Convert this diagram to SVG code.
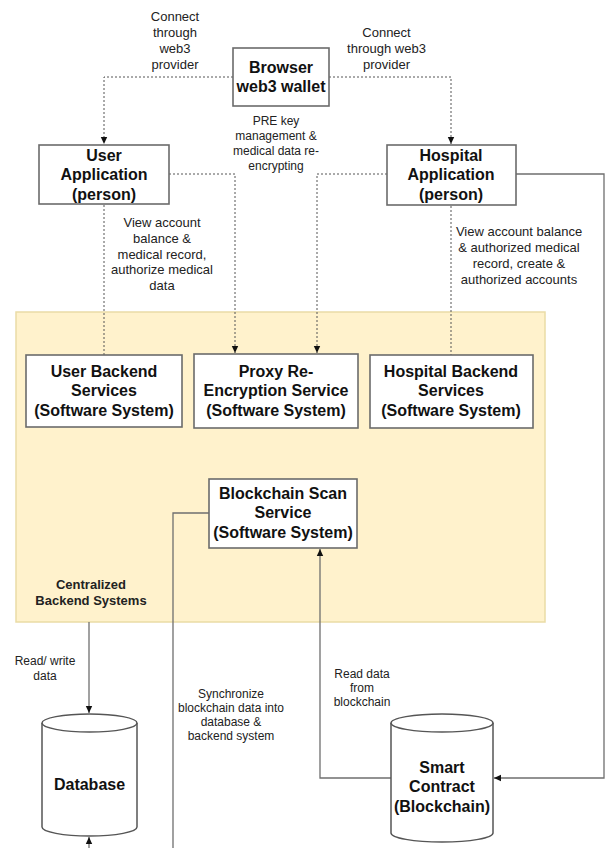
<svg xmlns="http://www.w3.org/2000/svg" width="606" height="848" viewBox="0 0 606 848">
<style>
.box{fill:#ffffff;stroke:#6b6b6b;stroke-width:1.6}
.cyl{fill:#ffffff;stroke:#555555;stroke-width:1.5}
.nt{font-family:"Liberation Sans",Arial,sans-serif;font-size:16px;font-weight:bold;fill:#111111;text-anchor:middle}
.lb{font-family:"Liberation Sans",Arial,sans-serif;font-size:13px;fill:#222222;text-anchor:middle}
.ls{font-family:"Liberation Sans",Arial,sans-serif;font-size:12px;fill:#222222;text-anchor:middle}
.lbb{font-family:"Liberation Sans",Arial,sans-serif;font-size:13px;font-weight:bold;fill:#222222;text-anchor:middle}
.dot{fill:none;stroke:#555555;stroke-width:1;stroke-dasharray:2 2}
.sol{fill:none;stroke:#6f6f6f;stroke-width:1.3}
</style>
<defs>
<marker id="arr" markerWidth="8" markerHeight="8" refX="7" refY="4" orient="auto" markerUnits="userSpaceOnUse">
<path d="M0,0.8 L7,4 L0,7.2 Z" fill="#111111"/>
</marker>
</defs>
<g id="container">
<rect x="16" y="312" width="529" height="310" fill="#fff2cc" stroke="#eadca6" stroke-width="1.5"/>
<text class="lbb" x="91" y="589">Centralized</text>
<text class="lbb" x="91" y="605">Backend Systems</text>
</g>
<g id="connectors">
<path class="dot" d="M233,77 H104 V144" marker-end="url(#arr)"/>
<path class="dot" d="M329,77 H451 V144" marker-end="url(#arr)"/>
<path class="dot" d="M169,174 H235 V353" marker-end="url(#arr)"/>
<path class="dot" d="M387,174 H317 V353" marker-end="url(#arr)"/>
<path class="dot" d="M104,205 V355"/>
<path class="dot" d="M451,206 V355"/>
<path class="sol" d="M516,174 H604 V778 H494" marker-end="url(#arr)"/>
<path class="sol" d="M391,778 H320 V549" marker-end="url(#arr)"/>
<path class="sol" d="M209,513 H173 V848"/>
<path class="sol" d="M89,622 V713" marker-end="url(#arr)"/>
<path class="sol" d="M89,848 V837" marker-end="url(#arr)"/>
</g>
<g id="labels">
<text class="lb" x="175" y="20.5">Connect</text>
<text class="lb" x="175" y="36.5">through</text>
<text class="lb" x="175" y="52.5">web3</text>
<text class="lb" x="175" y="68.5">provider</text>
<text class="lb" x="386.5" y="36.5">Connect</text>
<text class="lb" x="386.5" y="52.5">through web3</text>
<text class="lb" x="386.5" y="68.5">provider</text>
<text class="ls" x="276" y="125">PRE key</text>
<text class="ls" x="276" y="140">management &amp;</text>
<text class="ls" x="276" y="155">medical data re-</text>
<text class="ls" x="276" y="170">encrypting</text>
<text class="lb" x="162" y="226.5">View account</text>
<text class="lb" x="162" y="242.5">balance &amp;</text>
<text class="lb" x="162" y="258.5">medical record,</text>
<text class="lb" x="162" y="274">authorize medical</text>
<text class="lb" x="162" y="289.5">data</text>
<text class="lb" x="519" y="235.5">View account balance</text>
<text class="lb" x="519" y="251.5">&amp; authorized medical</text>
<text class="lb" x="519" y="267.5">record, create &amp;</text>
<text class="lb" x="519" y="283.5">authorized accounts</text>
<text class="ls" x="45" y="665">Read/ write</text>
<text class="ls" x="45" y="680">data</text>
<text class="ls" x="231" y="698">Synchronize</text>
<text class="ls" x="231" y="712">blockchain data into</text>
<text class="ls" x="231" y="726">database &amp;</text>
<text class="ls" x="231" y="740">backend system</text>
<text class="ls" x="362" y="677.5">Read data</text>
<text class="ls" x="362" y="691.5">from</text>
<text class="ls" x="362" y="705.5">blockchain</text>
</g>
<g id="browser">
<rect class="box" x="233" y="48" width="96" height="58"/>
<text class="nt" x="281" y="73">Browser</text>
<text class="nt" x="281" y="92">web3 wallet</text>
</g>
<g id="user-app">
<rect class="box" x="39" y="145" width="130" height="59"/>
<text class="nt" x="104" y="161">User</text>
<text class="nt" x="104" y="180">Application</text>
<text class="nt" x="104" y="200">(person)</text>
</g>
<g id="hospital-app">
<rect class="box" x="387" y="145" width="129" height="60"/>
<text class="nt" x="451" y="161">Hospital</text>
<text class="nt" x="451" y="180">Application</text>
<text class="nt" x="451" y="200">(person)</text>
</g>
<g id="user-backend">
<rect class="box" x="26" y="355" width="156" height="72"/>
<text class="nt" x="104" y="377">User Backend</text>
<text class="nt" x="104" y="396">Services</text>
<text class="nt" x="104" y="416">(Software System)</text>
</g>
<g id="proxy">
<rect class="box" x="194" y="354" width="164" height="74"/>
<text class="nt" x="276" y="377">Proxy Re-</text>
<text class="nt" x="276" y="396">Encryption Service</text>
<text class="nt" x="276" y="416">(Software System)</text>
</g>
<g id="hospital-backend">
<rect class="box" x="370" y="355" width="163" height="73"/>
<text class="nt" x="451" y="377">Hospital Backend</text>
<text class="nt" x="451" y="396">Services</text>
<text class="nt" x="451" y="416">(Software System)</text>
</g>
<g id="blockchain-scan">
<rect class="box" x="209" y="479" width="148" height="69"/>
<text class="nt" x="283" y="499">Blockchain Scan</text>
<text class="nt" x="283" y="518">Service</text>
<text class="nt" x="283" y="538">(Software System)</text>
</g>
<g id="database">
<path class="cyl" d="M42,723 A47.5,9 0 0 1 137,723 V827 A47.5,9 0 0 1 42,827 Z"/>
<path class="cyl" d="M42,723 A47.5,9 0 0 0 137,723"/>
<text class="nt" x="89.5" y="790">Database</text>
</g>
<g id="smart-contract">
<path class="cyl" d="M391,723 A51,9 0 0 1 493,723 V833 A51,9 0 0 1 391,833 Z"/>
<path class="cyl" d="M391,723 A51,9 0 0 0 493,723"/>
<text class="nt" x="442" y="773">Smart</text>
<text class="nt" x="442" y="792">Contract</text>
<text class="nt" x="442" y="812">(Blockchain)</text>
</g>
</svg>
